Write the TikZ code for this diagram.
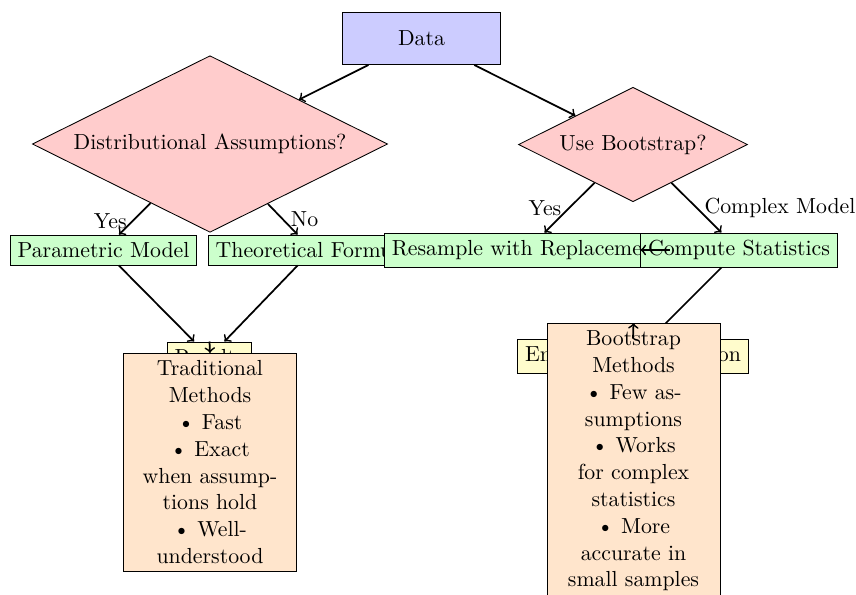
\documentclass[tikz,border=0pt]{standalone}
\usetikzlibrary{shapes.geometric}
\begin{document}
\begin{tikzpicture}[x=0.4587pt, y=-0.4587pt,
  startbox/.style={rectangle, draw, fill=blue!20, minimum width=72.5pt, minimum height=23.9pt},
  decision/.style={diamond, draw, fill=red!20, aspect=2, inner sep=1pt},
  procbox/.style={rectangle, draw, fill=green!20},
  iobox/.style={rectangle, draw, fill=yellow!20},
  notebox/.style={rectangle, draw, fill=orange!20, text width=70pt, inner xsep=4.7pt, align=center, font=\linespread{1.025}\selectfont},
  arr/.style={->, thick}]
\useasboundingbox (0,0) rectangle (856,594);
\node[startbox] (data) at (421.5,38.5) {Data};
\node[decision, minimum width=163pt, minimum height=81pt] (dist) at (210,144) {Distributional Assumptions?};
\node[decision, minimum width=105pt, minimum height=52.5pt] (boot) at (633,144.5) {Use Bootstrap?};
\node[procbox] (param) at (103.5,250) {Parametric Model};
\node[procbox] (theory) at (312.5,250) {Theoretical Formula};
\node[procbox] (resample) at (527,250) {Resample with Replacement};
\node[procbox] (compute) at (739,250) {Compute Statistics};
\node[iobox] (results) at (209.5,357) {Results};
\node[iobox] (empirical) at (633,356) {Empirical Distribution};
\draw[arr] (data) -- (dist);
\draw[arr] (data) -- (boot);
\draw[arr] (dist) -- node[midway, left, yshift=-1pt] {Yes} (param);
\draw[arr] (dist) -- node[midway, right] {No} (theory);
\draw[arr] (boot) -- node[midway, left] {Yes} (resample);
\draw[arr] (boot) -- node[midway, right] {Complex Model} (compute);
\draw[arr] (param) -- (results);
\draw[arr] (theory) -- (results);
\draw[arr] (resample) -- (compute);
\draw[arr] (compute) -- (empirical);
\node[notebox, anchor=north] (trad) at (210,353) {Traditional Methods\\ \textbullet\ Fast\\ \textbullet\ Exact when assumptions hold\\ \textbullet\ Well-understood};
\node[notebox, anchor=north] (bnote) at (633.5,323) {Bootstrap Methods\\ \textbullet\ Few assumptions\\ \textbullet\ Works for complex statistics\\ \textbullet\ More accurate in small samples};
\draw[arr] (results.north) -- (trad.north);
\draw[arr] (empirical.north) -- (bnote.north);
\end{tikzpicture}
\end{document}
